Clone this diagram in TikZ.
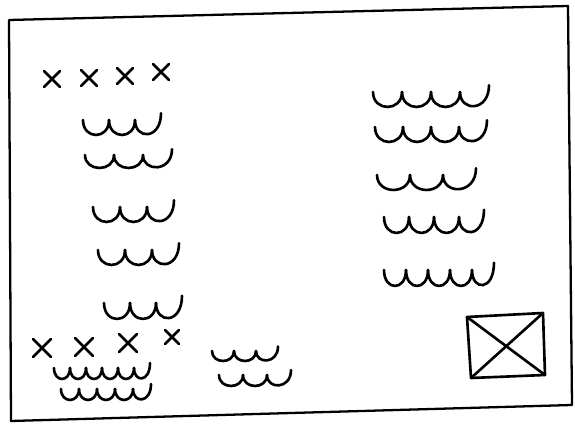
\documentclass[tikz,border=0pt]{standalone}
\usepackage{tikz}
\usetikzlibrary{calc}

\tikzset{
  pen/.style={line width=1.5pt, line cap=round, line join=round},
  frame/.style={line width=1.3pt, line join=round},
}
% one hand-drawn row of "u" bumps: x, top, bump width, bumps, depth
\newcommand{\waves}[5]{%
  \foreach \k in {1,...,#4}{
    \pgfmathsetmacro{\xa}{#1+(\k-1)*#3}
    \pgfmathsetmacro{\xb}{#1+\k*#3}
    \pgfmathsetmacro{\yb}{\k==#4 ? #2-0.45*#5 : #2}
    \draw[pen] (\xa,#2) .. controls (\xa,#2+#5*1.33) and (\xb,#2+#5*1.33) .. (\xb,\yb);
  }}
% a cross mark: centre x, centre y, half size
\newcommand{\cross}[3]{%
  \draw[pen] (#1-#3,#2+#3) -- (#1+#3,#2-#3);
  \draw[pen] (#1-#3,#2-#3) -- (#1+#3,#2+#3);}

\begin{document}
\begin{tikzpicture}[x=0.02cm, y=-0.02cm]
        \useasboundingbox (0,0) rectangle (575,425);
        % Draw the page frame
        \draw[frame] (9,20) -- (568,6) -- (572,405) -- (11,421) -- cycle;
        % top row of crosses
        \cross{52}{79}{8}
        \cross{89}{78}{8}
        \cross{125}{76}{8}
        \cross{161}{72}{8}
        % left column of text lines
        \waves{83}{120}{26}{3}{15}
        \waves{85}{155}{29}{3}{13}
        \waves{93}{207}{27}{3}{15}
        \waves{98}{250}{27}{3}{15}
        \waves{104}{303}{26}{3}{16}
        % right column of text lines
        \waves{373}{92}{29}{4}{15}
        \waves{375}{127}{28}{4}{15}
        \waves{377}{175}{33}{3}{15}
        \waves{384}{217}{25}{4}{16}
        \waves{384}{270}{22}{5}{16}
        % bottom row of crosses
        \cross{42}{348}{9}
        \cross{84}{347}{9}
        \cross{128}{343}{9}
        \cross{172}{337}{7}
        % bottom text lines
        \waves{54}{368}{16}{6}{11}
        \waves{61}{389}{18}{5}{11}
        \waves{212}{351}{22}{3}{10}
        \waves{219}{375}{24}{3}{11}
        % image placeholder box
        \coordinate (tl) at (467,317);
        \coordinate (tr) at (543,313);
        \coordinate (br) at (545,375);
        \coordinate (bl) at (471,378);
        \draw[pen] (tl) -- (tr) -- (br) -- (bl) -- cycle;
        \draw[pen] (tl) -- (br);
        \draw[pen] (tr) -- (bl);
\end{tikzpicture}
\end{document}
